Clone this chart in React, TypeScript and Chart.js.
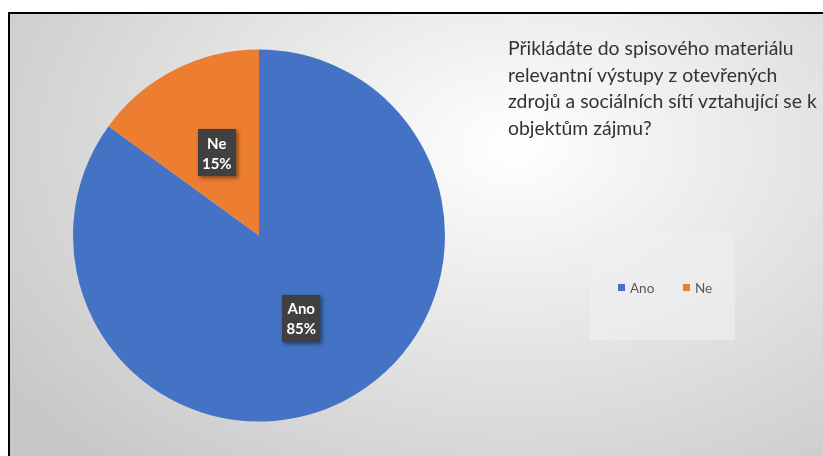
import React, { useEffect, useRef } from "react";
import { Chart, registerables } from "chart.js";

Chart.register(...registerables);

const categories = ["Ano", "Ne"];
const values = [85, 15];
const colors = ["#4472C4", "#ED7D31"];
const titleLines = [
  "Přikládáte do spisového materiálu",
  "relevantní výstupy z otevřených",
  "zdrojů a sociálních sítí vztahující se k",
  "objektům zájmu?",
];

const FONT = "Lato, 'Open Sans', sans-serif";

const overlayPlugin = {
  id: "overlay",
  afterDatasetsDraw(chart: any) {
    const ctx = chart.ctx as CanvasRenderingContext2D;
    const meta = chart.getDatasetMeta(0);
    const data = chart.data.datasets[0].data as number[];
    const total = data.reduce((a, b) => a + b, 0);
    meta.data.forEach((arc: any, i: number) => {
      const p = arc.tooltipPosition();
      const lab = String(chart.data.labels[i]);
      const pct = Math.round((data[i] / total) * 100) + "%";
      const w = 38;
      const h = 47;
      ctx.save();
      ctx.shadowColor = "rgba(0,0,0,0.45)";
      ctx.shadowBlur = 4;
      ctx.shadowOffsetX = 2;
      ctx.shadowOffsetY = 2;
      ctx.fillStyle = "#404040";
      ctx.fillRect(Math.round(p.x - w / 2), Math.round(p.y - h / 2), w, h);
      ctx.restore();
      ctx.save();
      ctx.fillStyle = "#ffffff";
      ctx.font = "bold 15px " + FONT;
      ctx.textAlign = "center";
      ctx.textBaseline = "alphabetic";
      ctx.fillText(lab, p.x, p.y - 4);
      ctx.fillText(pct, p.x, p.y + 16);
      ctx.restore();
    });
  },
  afterDraw(chart: any) {
    const ctx = chart.ctx as CanvasRenderingContext2D;
    ctx.save();
    ctx.fillStyle = "#333333";
    ctx.font = "19.4px " + FONT;
    ctx.textAlign = "left";
    ctx.textBaseline = "alphabetic";
    titleLines.forEach((line, i) => {
      ctx.fillText(line, 498, 41 + i * 26.5);
    });
    ctx.restore();
    ctx.save();
    ctx.fillStyle = "rgba(240,240,240,0.6)";
    ctx.fillRect(580, 219, 145, 107);
    ctx.font = "13.5px " + FONT;
    ctx.textBaseline = "alphabetic";
    let x = 608;
    const labels = chart.data.labels as string[];
    labels.forEach((l, i) => {
      ctx.fillStyle = colors[i];
      ctx.fillRect(x, 270, 7, 7);
      ctx.fillStyle = "#595959";
      ctx.fillText(l, x + 12, 278.5);
      x += 65;
    });
    ctx.restore();
  },
};

export default function App() {
  const ref = useRef<HTMLCanvasElement>(null);
  useEffect(() => {
    if (!ref.current) return;
    const chart = new Chart(ref.current, {
      type: "pie",
      data: {
        labels: categories,
        datasets: [
          {
            data: values,
            backgroundColor: colors,
            borderWidth: 0,
          },
        ],
      },
      options: {
        animation: false,
        responsive: false,
        layout: { padding: { left: 63, top: 35.5, right: 378, bottom: 34.5 } },
        plugins: {
          legend: { display: false },
          title: { display: false },
          tooltip: { enabled: false },
        },
      },
      plugins: [overlayPlugin],
    });
    return () => chart.destroy();
  }, []);
  return (
    <div
      style={{
        position: "absolute",
        left: 8,
        top: 12,
        width: 815,
        height: 444,
        boxSizing: "border-box",
        borderLeft: "2px solid #000",
        borderTop: "2px solid #000",
        background:
          "radial-gradient(ellipse 75% 95% at 62% 30%, #ffffff 0%, #e6e6e6 45%, #c8c8c8 100%)",
        overflow: "hidden",
      }}
    >
      <canvas ref={ref} width={813} height={442} style={{ display: "block" }} />
    </div>
  );
}
